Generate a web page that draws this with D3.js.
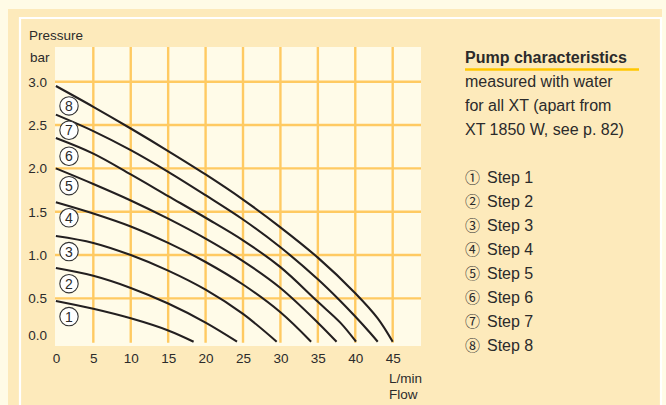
<!DOCTYPE html>
<html><head><meta charset="utf-8">
<script src="https://cdn.jsdelivr.net/npm/d3@7"></script>
<style>
html,body{margin:0;padding:0;background:#fffbe6;}
svg{display:block;font-family:"Liberation Sans",Arial,Helvetica,sans-serif;}
</style></head>
<body>
<svg id="chart" width="666" height="405"></svg>
<script>
// ---- data ----
const stepNames = ["Step 1","Step 2","Step 3","Step 4","Step 5","Step 6","Step 7","Step 8"];
const circled = ["①","②","③","④","⑤","⑥","⑦","⑧"];
const flow1 = [0,5,10,15,18.4];
const pres1 = [0.47,0.38,0.27,0.13,0];
const flow2 = [0,5,10,15,20,24.2];
const pres2 = [0.85,0.76,0.62,0.44,0.22,0];
const flow3 = [0,5,10,15,20,25,29.5];
const pres3 = [1.22,1.14,1.0,0.82,0.6,0.32,0];
const flow4 = [0,5,10,15,20,25,30,34.1];
const pres4 = [1.61,1.48,1.33,1.14,0.92,0.66,0.34,0];
const flow5 = [0,5,10,15,20,25,30,35,37.5];
const pres5 = [2.0,1.82,1.63,1.42,1.19,0.93,0.62,0.22,0];
const flow6 = [0,5,10,15,20,25,30,35,38,40.1];
const pres6 = [2.35,2.17,1.93,1.68,1.43,1.17,0.86,0.46,0.22,0];
const flow7 = [0,5,10,15,20,25,30,35,38,40,42,43];
const pres7 = [2.62,2.43,2.21,1.96,1.69,1.41,1.09,0.72,0.47,0.29,0.1,0];
const flow8 = [0,5,10,15,20,25,30,35,40,43,45];
const pres8 = [2.95,2.71,2.46,2.20,1.93,1.64,1.32,0.97,0.56,0.27,0];
const labelFlow = 1.75;
const labelPressure = [0.29,0.67,1.04,1.43,1.80,2.14,2.44,2.72];
const xTicks = [0,5,10,15,20,25,30,35,40,45];
const yTicks = [0,0.5,1,1.5,2,2.5,3];
const titleText = "Pump characteristics";
const noteLines = ["measured with water","for all XT (apart from","XT 1850 W, see p. 82)"];

const flows = [flow1,flow2,flow3,flow4,flow5,flow6,flow7,flow8];
const pressures = [pres1,pres2,pres3,pres4,pres5,pres6,pres7,pres8];

// ---- drawing ----
const svg = d3.select("#chart");
const C = {bgOuter:"#fffbe6", panel:"#fdeabb", plot:"#fffbe8", grid:"#ffca62", line:"#231f20", text:"#2b2b2b"};

svg.append("rect").attr("x",0).attr("y",0).attr("width",666).attr("height",405).attr("fill",C.bgOuter);
svg.append("rect").attr("x",8).attr("y",9).attr("width",654).attr("height",400).attr("fill",C.panel);
svg.append("path").attr("d","M20,405 V18 H661 V405").attr("fill","none").attr("stroke","#ffffff").attr("stroke-width",2.2);

const x = d3.scaleLinear().domain([0,45]).range([55.9,392.7]);
const y = d3.scaleLinear().domain([0,3]).range([341.7,81.7]);
const plotL = 55, plotR = 421, plotT = 47, plotB = 346;

svg.append("rect").attr("x",plotL).attr("y",plotT).attr("width",plotR-plotL).attr("height",plotB-plotT).attr("fill",C.plot);

const g = svg.append("g");
g.selectAll("line.v").data(xTicks.filter(d=>d>0)).join("line")
  .attr("x1",d=>x(d)).attr("x2",d=>x(d)).attr("y1",plotT).attr("y2",y(0)+1)
  .attr("stroke",C.grid).attr("stroke-width",2.4);
g.selectAll("line.h").data(yTicks.filter(d=>d>0)).join("line")
  .attr("x1",plotL).attr("x2",plotR).attr("y1",d=>y(d)).attr("y2",d=>y(d))
  .attr("stroke",C.grid).attr("stroke-width",2.4);

const yAxis = d3.axisLeft(y).tickValues(yTicks).tickFormat(d3.format(".1f")).tickSize(0).tickPadding(0);
const ya = svg.append("g").attr("transform","translate(47,0)").call(yAxis);
ya.select(".domain").remove();
ya.selectAll("text").attr("font-size",13.5).attr("fill",C.text).attr("font-family","Liberation Sans, Arial, sans-serif")
  .attr("dy",d=>d===0?"-0.2em":"0.32em");

const xAxis = d3.axisBottom(x).tickValues(xTicks).tickFormat(d3.format("d")).tickSize(0).tickPadding(0);
const xa = svg.append("g").attr("transform","translate(0,353)").call(xAxis);
xa.select(".domain").remove();
xa.selectAll("text").attr("font-size",13.5).attr("fill",C.text).attr("font-family","Liberation Sans, Arial, sans-serif").attr("dy","0.71em");

svg.append("text").attr("x",29).attr("y",40).attr("font-size",13.5).attr("fill",C.text).text("Pressure");
svg.append("text").attr("x",30).attr("y",62).attr("font-size",13.5).attr("fill",C.text).text("bar");
svg.append("text").attr("x",389).attr("y",383).attr("font-size",13.5).attr("fill",C.text).text("L/min");
svg.append("text").attr("x",389).attr("y",399).attr("font-size",13.5).attr("fill",C.text).text("Flow");

const line = d3.line().x(d=>x(d[0])).y(d=>y(d[1])).curve(d3.curveCatmullRom.alpha(0.5));
flows.forEach((f,i)=>{
  const pts = f.map((v,j)=>[v,pressures[i][j]]);
  svg.append("path").datum(pts).attr("d",line).attr("fill","none")
    .attr("stroke",C.line).attr("stroke-width",2.1);
});

const lab = svg.append("g");
labelPressure.forEach((p,i)=>{
  lab.append("circle").attr("cx",x(labelFlow)).attr("cy",y(p)).attr("r",9.2)
    .attr("fill","#ffffff").attr("stroke","#333").attr("stroke-width",1.1);
  lab.append("text").attr("x",x(labelFlow)).attr("y",y(p)).attr("dy","0.36em")
    .attr("text-anchor","middle").attr("font-size",14).attr("fill",C.text).text(String(i+1));
});

svg.append("text").attr("x",465).attr("y",63).attr("font-size",16).attr("font-weight","bold").attr("fill",C.text).text(titleText);
svg.append("line").attr("x1",465).attr("x2",639).attr("y1",69.5).attr("y2",69.5).attr("stroke","#ffc700").attr("stroke-width",2.6);
noteLines.forEach((t,i)=>{
  svg.append("text").attr("x",465).attr("y",87+24*i).attr("font-size",16).attr("fill",C.text).text(t);
});
stepNames.forEach((s,i)=>{
  const t = svg.append("text").attr("y",183+24*i).attr("fill",C.text);
  t.append("tspan").attr("x",465).attr("font-size",15).attr("font-family","Noto Sans CJK JP, DejaVu Sans, sans-serif").text(circled[i]);
  t.append("tspan").attr("x",487).attr("font-size",16).text(s);
});
</script>
</body></html>
